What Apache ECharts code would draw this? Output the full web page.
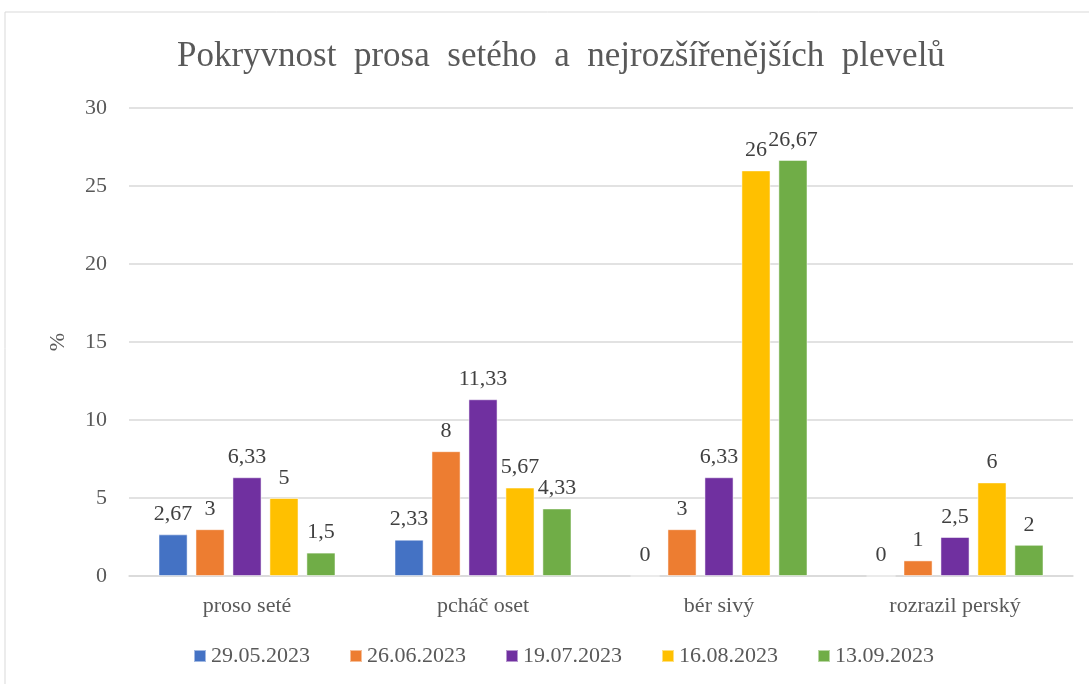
<!DOCTYPE html>
<html>
<head>
<meta charset="utf-8">
<script src="https://cdn.jsdelivr.net/npm/echarts@6/dist/echarts.min.js"></script>
<style>
  html, body { margin: 0; padding: 0; background: #fff; }
  #content { width: 1089px; height: 684px; }
</style>
</head>
<body>
<div id="content"></div>
<script>
// data
var categories = ["proso seté", "pcháč oset", "bér sivý", "rozrazil perský"];
var dates = ["29.05.2023", "26.06.2023", "19.07.2023", "16.08.2023", "13.09.2023"];
var s0529 = [2.67, 2.33, 0, 0];
var s0626 = [3, 8, 3, 1];
var s0719 = [6.33, 11.33, 6.33, 2.5];
var s0816 = [5, 5.67, 26, 6];
var s0913 = [1.5, 4.33, 26.67, 2];
var colors = ["#4472C4", "#ED7D31", "#7030A0", "#FFC000", "#70AD47"];

var font = "Liberation Serif";
var allSeries = [s0529, s0626, s0719, s0816, s0913];

var myChart = echarts.init(document.getElementById("content"));
var option = {
  textStyle: { fontFamily: font },
  graphic: [
    {
      type: "rect",
      shape: { x: 5, y: 12, width: 1200, height: 800 },
      style: { fill: "none", stroke: "#d9d9d9", lineWidth: 1 },
      z: -1
    }
  ],
  title: {
    text: "Pokryvnost  prosa  setého  a  nejrozšířenějších  plevelů",
    left: 172,
    top: 34,
    textStyle: { fontFamily: font, fontSize: 35, fontWeight: "normal", color: "#595959" }
  },
  grid: { left: 129, right: 16, top: 108, bottom: 108 },
  legend: {
    bottom: 12,
    left: 188,
    itemWidth: 12,
    itemHeight: 12,
    itemGap: 39,
    icon: "rect",
    textStyle: { fontFamily: font, fontSize: 22, color: "#595959" },
    data: dates
  },
  xAxis: {
    type: "category",
    data: categories,
    axisTick: { show: false },
    axisLine: { lineStyle: { color: "#d9d9d9", width: 1.5 } },
    axisLabel: { fontFamily: font, fontSize: 22, color: "#595959", margin: 19 }
  },
  yAxis: {
    type: "value",
    min: 0,
    max: 30,
    interval: 5,
    name: "%",
    nameLocation: "middle",
    nameGap: 60,
    nameRotate: 90,
    nameTextStyle: { fontFamily: font, fontSize: 22, color: "#595959" },
    splitLine: { lineStyle: { color: "#d9d9d9", width: 1.5 } },
    axisLabel: { fontFamily: font, fontSize: 22, color: "#595959", margin: 22 }
  },
  series: dates.map(function (d, i) {
    return {
      name: d,
      type: "bar",
      data: allSeries[i],
      barGap: "27%",
      barCategoryGap: "25%",
      itemStyle: { color: colors[i], borderColor: "rgba(255,255,255,0.5)", borderWidth: 1 },
      label: {
        show: true,
        position: "top",
        distance: 9,
        fontFamily: font,
        fontSize: 22,
        color: "#404040",
        formatter: function (p) { return String(p.value).replace(".", ","); }
      }
    };
  })
};
myChart.setOption(option);
</script>
</body>
</html>
